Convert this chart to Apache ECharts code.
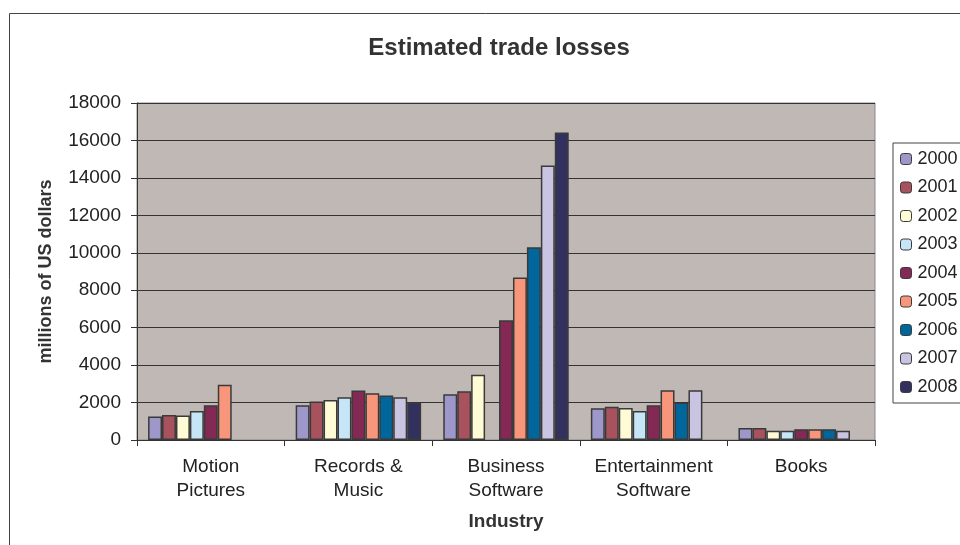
<!DOCTYPE html>
<html>
<head>
<meta charset="utf-8">
<script src="https://cdn.jsdelivr.net/npm/echarts@6/dist/echarts.min.js"></script>
<style>
  html, body { margin: 0; padding: 0; background: #fff; }
  #chart { width: 960px; height: 545px; }
</style>
</head>
<body>
<div id="chart"></div>
<script>
// categories and years
var industries = ["Motion\nPictures", "Records &\nMusic", "Business\nSoftware", "Entertainment\nSoftware", "Books"];
var years = ["2000", "2001", "2002", "2003", "2004", "2005", "2006", "2007", "2008"];

// losses per year, one value per industry (null = no bar)
var y2000 = [1250, 1850, 2450, 1700, 640];
var y2001 = [1330, 2050, 2600, 1780, 640];
var y2002 = [1310, 2140, 3480, 1710, 490];
var y2003 = [1550, 2290, null, 1550, 490];
var y2004 = [1850, 2650, 6400, 1850, 580];
var y2005 = [2950, 2500, 8680, 2660, 580];
var y2006 = [null, 2380, 10300, 2000, 580];
var y2007 = [null, 2290, 14660, 2660, 490];
var y2008 = [null, 2000, 16430, null, null];

var yearData = [y2000, y2001, y2002, y2003, y2004, y2005, y2006, y2007, y2008];
var colors = ["#9D98C9", "#A8525E", "#FFFBD5", "#C6E6F8", "#842854",
              "#F7967A", "#00669C", "#C8C4E1", "#32305F"];

var font = "Liberation Sans, Arial, sans-serif";

var chart = echarts.init(document.getElementById("chart"));

var series = years.map(function (y, i) {
  return {
    type: "bar",
    name: y,
    data: yearData[i],
    barGap: "0%",
    barCategoryGap: "15%",
    itemStyle: {
      color: colors[i],
      borderColor: "#3a3a3a",
      borderWidth: 1.5
    }
  };
});

chart.setOption({
  animation: false,
  color: colors,
  title: {
    text: "Estimated trade losses",
    left: 494,
    textAlign: "center",
    top: 31,
    textStyle: { fontFamily: font, fontSize: 24, fontWeight: "bold", color: "#333" }
  },
  graphic: [{
    type: "rect",
    shape: { x: 9.5, y: 13.5, width: 1000, height: 600 },
    style: { fill: "none", stroke: "#444", lineWidth: 1 },
    silent: true
  }],
  legend: {
    orient: "vertical",
    left: 893,
    top: 143,
    data: years,
    itemWidth: 11,
    itemHeight: 11,
    itemGap: 10.5,
    padding: [7, 40, 7, 7],
    borderColor: "#444",
    borderWidth: 1,
    textStyle: { fontFamily: font, fontSize: 18, lineHeight: 18, color: "#222", padding: [0, 0, 0, 1] },
    itemStyle: { borderColor: "#3a3a3a", borderWidth: 1 }
  },
  grid: {
    left: 137,
    right: 85,
    top: 103,
    bottom: 105,
    show: true,
    backgroundColor: "#C0B8B5",
    borderColor: "#888",
    borderWidth: 1
  },
  xAxis: {
    type: "category",
    data: industries,
    name: "Industry",
    nameLocation: "middle",
    nameGap: 72,
    nameTextStyle: { fontFamily: font, fontSize: 19, fontWeight: "bold", color: "#333" },
    axisLine: { lineStyle: { color: "#333", width: 1 } },
    axisTick: { show: true, interval: 0, length: 6, lineStyle: { color: "#333" } },
    axisLabel: { interval: 0, fontFamily: font, fontSize: 19, color: "#222", lineHeight: 24, margin: 15 }
  },
  yAxis: {
    type: "value",
    min: 0,
    max: 18000,
    interval: 2000,
    name: "millions of US dollars",
    nameLocation: "middle",
    nameGap: 82,
    nameTextStyle: { fontFamily: font, fontSize: 18, fontWeight: "bold", color: "#333" },
    axisLine: { show: true, lineStyle: { color: "#333", width: 1 } },
    axisTick: { show: true, length: 6, lineStyle: { color: "#333" } },
    axisLabel: {
      fontFamily: font, fontSize: 19, color: "#222", margin: 16,
      formatter: function (v) { return String(v); }
    },
    splitLine: { lineStyle: { color: "#333", width: 1 } }
  },
  series: series
});
</script>
</body>
</html>
